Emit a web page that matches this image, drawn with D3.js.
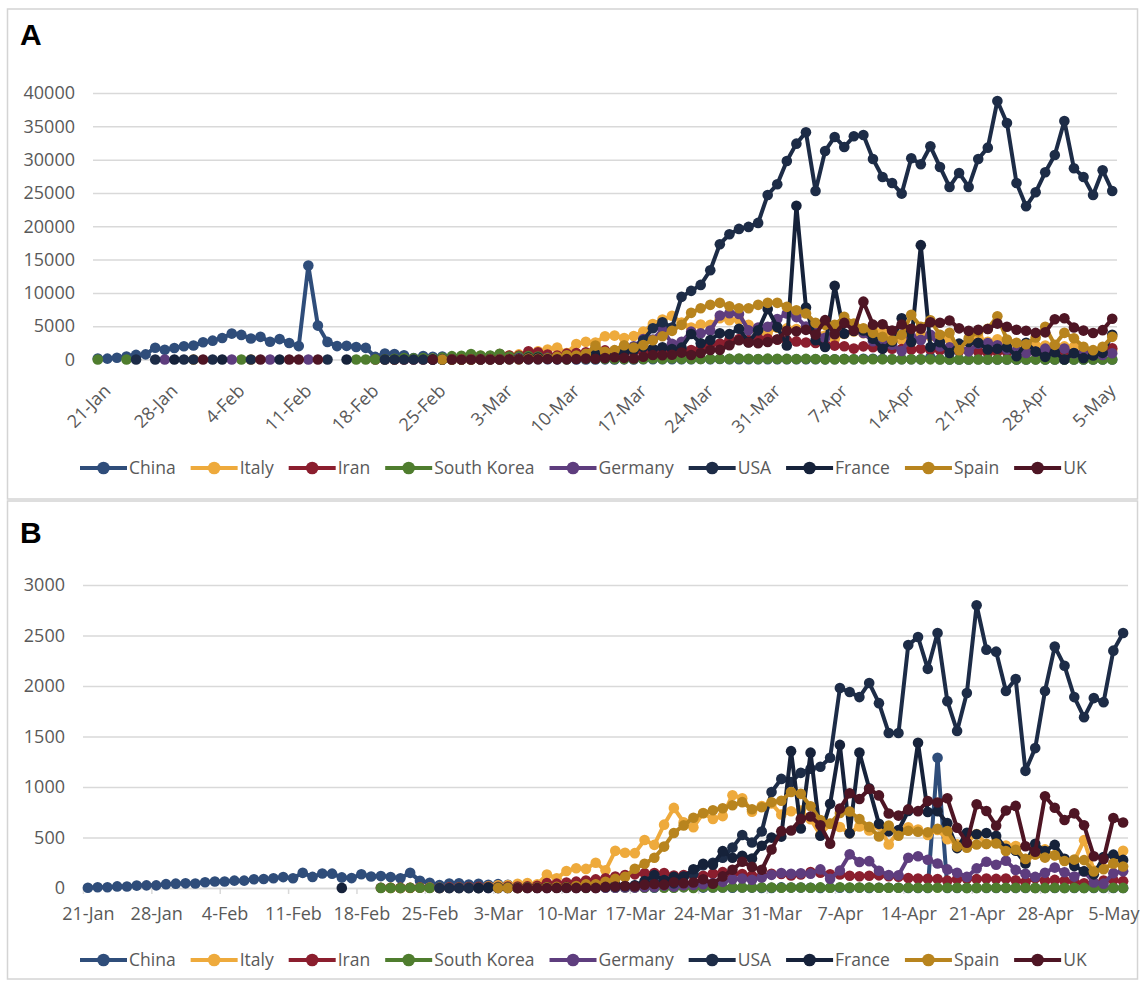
<!DOCTYPE html>
<html>
<head>
<meta charset="utf-8">
<script src="https://cdn.jsdelivr.net/npm/d3@7"></script>
<style>
  body { margin: 0; background: #fff; }
  svg { display: block; font-family: "Open Sans", sans-serif; }
</style>
</head>
<body>
<div id="chart"></div>
<script>
// empty cell (no report that day)
var _ = null;

var countries = ["China", "Italy", "Iran", "South Korea", "Germany", "USA", "France", "Spain", "UK"];
var colors = ["#2F4D7A", "#EEAA3C", "#8B1E2E", "#4F7D2E", "#5E3D7E", "#1D2C47", "#16223A", "#B8841E", "#4E1524"];

var firstDay = "2020-01-21";
var tickLabels = ["21-Jan", "28-Jan", "4-Feb", "11-Feb", "18-Feb", "25-Feb", "3-Mar", "10-Mar",
    "17-Mar", "24-Mar", "31-Mar", "7-Apr", "14-Apr", "21-Apr", "28-Apr", "5-May"];
var casesTicks = [0, 5000, 10000, 15000, 20000, 25000, 30000, 35000, 40000];
var deathsTicks = [0, 500, 1000, 1500, 2000, 2500, 3000];

// ---- A: daily new cases, one row per week ----
var casesChina = [
    149, 131, 259, 444, 688, 769, 1771,
    1459, 1737, 1981, 2102, 2590, 2829, 3235,
    3887, 3694, 3143, 3399, 2656, 3062, 2478,
    2015, 14108, 5090, 2641, 2009, 2048, 1886,
    1749, 394, 889, 823, 648, 214, 508,
    406, 433, 327, 427, 573, 202, 125,
    119, 139, 143, 99, 44, 40, 19,
    24, 15, 8, 11, 20, 16, 21,
    13, 34, 39, 41, 46, 45, 39,
    78, 47, 67, 55, 54, 45, 31,
    48, 36, 35, 31, 30, 39, 25,
    30, 62, 46, 99, 108, 89, 46,
    36, 46, 26, 352, 27, 16, 12,
    11, 30, 10, 6, 12, 11, 3,
    22, 4, 12, 1, 2, 3, 1,
    2, 3];
var casesItaly = [
    _, _, _, _, _, _, _,
    _, _, _, 2, _, _, _,
    _, _, 1, _, _, _, _,
    _, _, _, _, _, _, _,
    _, _, _, 17, 59, 71, 79,
    93, 131, 202, 233, 240, 566, 342,
    466, 587, 769, 778, 1247, 1492, 1797,
    977, 2313, 2651, 2547, 3497, 3590, 3233,
    3526, 4207, 5322, 5986, 6557, 5560, 4789,
    5249, 5210, 6203, 5909, 5974, 5217, 4050,
    4053, 4782, 4668, 4585, 4805, 4316, 3599,
    3039, 3836, 4204, 3951, 4694, 4092, 3153,
    2972, 2667, 3786, 3493, 3491, 3047, 2256,
    2729, 3370, 2646, 3021, 2357, 2324, 1739,
    2091, 2086, 1872, 1965, 1900, 1389, 1221,
    1075, 1444];
var casesIran = [
    _, _, _, _, _, _, _,
    _, _, _, _, _, _, _,
    _, _, _, _, _, _, _,
    _, _, _, _, _, _, _,
    _, 2, 3, 13, 10, 15, 18,
    34, 44, 106, 143, 205, 385, 523,
    835, 586, 591, 1234, 1076, 743, 595,
    881, 958, 1075, 1289, 1365, 1209, 1053,
    1178, 1192, 1046, 1237, 966, 1028, 1411,
    1762, 2206, 2389, 2926, 3076, 2901, 3186,
    3110, 2987, 2875, 2715, 2560, 2483, 2274,
    2089, 1997, 1634, 1972, 1837, 1657, 1617,
    1574, 1512, 1606, 1499, 1374, 1343, 1294,
    1297, 1194, 1030, 1168, 1134, 1153, 991,
    1112, 1073, 993, 1006, 802, 976, 1223,
    1323, 1680];
var casesKorea = [
    1, _, _, 1, _, _, _,
    _, _, _, _, _, _, _,
    _, 3, _, _, _, _, _,
    _, _, _, _, _, _, 1,
    1, 15, 34, 100, 229, 169, 231,
    144, 284, 505, 571, 813, 586, 599,
    851, 435, 467, 505, 448, 272, 165,
    35, 242, 114, 110, 107, 76, 74,
    84, 93, 152, 87, 147, 98, 64,
    76, 100, 104, 91, 146, 105, 78,
    125, 101, 89, 86, 94, 81, 47,
    47, 53, 39, 27, 30, 32, 25,
    27, 27, 22, 22, 18, 8, 13,
    9, 11, 8, 6, 10, 10, 10,
    14, 9, 4, 9, 6, 13, 8,
    3, 2];
var casesGermany = [
    _, _, _, _, _, _, _,
    3, _, _, _, _, _, _,
    1, _, _, _, 1, _, _,
    _, 1, _, _, _, _, _,
    _, _, _, _, _, _, _,
    _, 10, 26, 9, 57, 73, 29,
    66, 66, 220, 188, 129, 241, 136,
    281, 451, 170, 1597, 910, 1210, 1477,
    1985, 3070, 2993, 4528, 2365, 2660, 4183,
    3930, 4337, 6615, 6933, 6824, 4400, 4790,
    4923, 6064, 6922, 6365, 4933, 4031, 3251,
    4289, 5633, 4885, 3990, 2737, 2946, 2218,
    1287, 3394, 2945, 3699, 1945, 1842, 1881,
    1226, 2357, 2481, 2137, 1514, 1257, 988,
    1154, 1627, 1470, 1639, 945, 793, 679,
    685, 947];
var casesUSA = [
    _, _, _, _, 1, _, 1,
    _, _, 1, 1, _, 1, _,
    _, _, 1, _, _, _, _,
    _, _, _, 1, _, _, _,
    _, _, 0, 0, 0, 0, 0,
    0, 3, 0, 4, 12, 9, 24,
    20, 31, 68, 45, 140, 116, 65,
    378, 277, 432, 596, 560, 777, 1100,
    1800, 2900, 4700, 5600, 4800, 9400, 10300,
    11200, 13400, 17300, 18800, 19600, 19900, 20500,
    24700, 26300, 29800, 32400, 34100, 25300, 31300,
    33400, 31900, 33500, 33700, 30100, 27400, 26500,
    24900, 30200, 29300, 32000, 28900, 25900, 28000,
    25900, 30100, 31800, 38800, 35500, 26500, 23000,
    25100, 28100, 30700, 35800, 28700, 27400, 24700,
    28400, 25300];
var casesFrance = [
    _, _, _, _, _, _, _,
    _, 1, _, _, _, _, 1,
    _, _, _, _, _, 5, _,
    _, _, _, _, _, 1, _,
    _, _, _, _, _, _, _,
    2, 2, 20, 19, 43, 30, 61,
    13, 81, 92, 276, 296, 177, 286,
    372, 495, 785, 838, 924, 1210, 1097,
    1404, 1861, 1617, 1847, 1559, 1780, 3838,
    2446, 2931, 3922, 3809, 4611, 2599, 4376,
    7578, 4861, 2116, 23060, 7788, 2900, 1873,
    11059, 3881, 4286, 4342, 3114, 1613, 2673,
    6200, 2633, 17164, 1880, 2600, 975, 2383,
    2638, 2500, 1497, 1617, 1825, 500, 2500,
    1211, 400, 1100, 0, 975, 200, 600,
    1000, 3700];
var casesSpain = [
    _, _, _, _, _, _, _,
    _, _, _, _, _, _, _,
    _, _, _, _, _, _, _,
    _, _, _, _, _, _, _,
    _, _, _, _, _, _, _,
    _, 7, 2, 17, 13, 39, 36,
    45, 57, 37, 141, 100, 173, 400,
    622, 582, 869, 2086, 1159, 1407, 2144,
    1806, 2162, 2900, 3500, 4300, 5200, 7000,
    7700, 8200, 8500, 8000, 7700, 7700, 8200,
    8500, 8500, 7900, 7400, 6900, 5500, 5200,
    5200, 6400, 5400, 4700, 4000, 3400, 2900,
    3700, 6700, 4900, 5900, 3700, 4000, 1400,
    3200, 4200, 4600, 6500, 3000, 2500, 2300,
    3300, 4900, 2200, 4000, 3200, 1900, 1400,
    1900, 3400];
var casesUK = [
    _, _, _, _, _, _, _,
    _, _, _, _, 2, _, _,
    _, _, _, 1, _, _, 4,
    1, _, 1, _, _, _, _,
    _, _, _, _, _, _, _,
    0, _, 2, 5, 3, 12, 4,
    11, 34, 30, 48, 43, 67, 48,
    52, 83, 134, 117, 208, 342, 251,
    152, 407, 676, 643, 714, 1035, 665,
    967, 1427, 1452, 2129, 2885, 2546, 2433,
    2619, 3009, 4324, 4244, 4450, 3735, 5903,
    3802, 5491, 4344, 8681, 5233, 5288, 4342,
    5252, 4603, 4617, 5599, 5525, 5850, 4676,
    4301, 4451, 4583, 5386, 4913, 4463, 4309,
    3996, 4076, 6032, 6201, 4806, 4339, 3985,
    4406, 6111];

// ---- B: daily deaths, one row per week ----
var deathsChina = [
    3, 8, 8, 16, 15, 24, 26,
    26, 38, 43, 46, 45, 57, 64,
    65, 73, 73, 86, 89, 97, 108,
    97, 150, 110, 143, 142, 105, 98,
    136, 114, 118, 109, 97, 150, 71,
    52, 29, 44, 47, 35, 42, 31,
    38, 31, 30, 28, 27, 22, 17,
    22, 11, 7, 13, 10, 14, 13,
    11, 8, 3, 7, 6, 9, 7,
    4, 6, 5, 3, 5, 4, 1,
    1, 6, 4, 4, 3, 1, 2,
    2, 1, 3, 1, 2, 3, 3,
    1, 0, 0, 1290, 0, 0, 0,
    0, 0, 0, 0, 0, 0, 0,
    0, 0, 0, 0, 0, 0, 0,
    0, 0];
var deathsItaly = [
    _, _, _, _, _, _, _,
    _, _, _, _, _, _, _,
    _, _, _, _, _, _, _,
    _, _, _, _, _, _, _,
    _, _, _, 1, 1, 1, 4,
    4, 1, 5, 4, 8, 5, 18,
    27, 28, 41, 49, 36, 133, 97,
    168, 196, 189, 250, 175, 368, 349,
    345, 475, 427, 627, 793, 651, 601,
    743, 683, 712, 919, 889, 756, 812,
    837, 727, 760, 766, 681, 525, 636,
    604, 542, 610, 570, 619, 431, 566,
    602, 578, 525, 575, 482, 433, 454,
    534, 437, 464, 420, 415, 260, 333,
    382, 323, 285, 269, 474, 174, 195,
    236, 369];
var deathsIran = [
    _, _, _, _, _, _, _,
    _, _, _, _, _, _, _,
    _, _, _, _, _, _, _,
    _, _, _, _, _, _, _,
    _, _, 2, 2, 1, 3, 4,
    3, 3, 7, 8, 9, 11, 12,
    11, 15, 15, 16, 21, 49, 43,
    54, 63, 75, 85, 97, 113, 129,
    135, 147, 149, 149, 123, 129, 127,
    122, 143, 157, 144, 139, 123, 117,
    141, 138, 124, 134, 158, 151, 136,
    133, 121, 117, 122, 125, 117, 111,
    98, 94, 92, 89, 73, 87, 91,
    88, 94, 90, 93, 76, 60, 96,
    71, 80, 71, 63, 47, 47, 74,
    78, 68];
var deathsKorea = [
    _, _, _, _, _, _, _,
    _, _, _, _, _, _, _,
    _, _, _, _, _, _, _,
    _, _, _, _, _, _, _,
    _, _, 1, 1, 0, 2, 2,
    1, 1, 0, 1, 1, 1, 4,
    6, 4, 3, 7, 2, 7, 3,
    3, 6, 0, 6, 5, 3, 6,
    6, 3, 7, 3, 2, 7, 0,
    9, 5, 5, 8, 5, 6, 6,
    4, 3, 4, 5, 3, 6, 3,
    8, 4, 4, 4, 3, 3, 3,
    3, 3, 2, 3, 2, 2, 1,
    1, 2, 2, 2, 2, 2, 1,
    1, 2, 1, 2, 1, 2, 2,
    2, 1];
var deathsGermany = [
    _, _, _, _, _, _, _,
    _, _, _, _, _, _, _,
    _, _, _, _, _, _, _,
    _, _, _, _, _, _, _,
    _, _, _, _, _, _, _,
    _, 0, 0, 0, 0, 0, 0,
    0, 0, 0, 0, 0, 0, 2,
    0, 1, 3, 1, 2, 3, 5,
    4, 8, 11, 24, 14, 27, 29,
    37, 49, 61, 86, 94, 81, 105,
    130, 149, 140, 145, 142, 184, 92,
    173, 333, 258, 266, 171, 129, 126,
    300, 315, 280, 242, 184, 150, 110,
    194, 260, 230, 270, 179, 140, 110,
    150, 202, 156, 113, 164, 54, 43,
    146, 165];
var deathsUSA = [
    _, _, _, _, _, _, _,
    _, _, _, _, _, _, _,
    _, _, _, _, _, _, _,
    _, _, _, _, _, _, _,
    _, _, _, _, _, _, _,
    _, 0, 0, 0, 1, 0, 4,
    3, 2, 1, 2, 3, 4, 4,
    4, 8, 7, 11, 10, 12, 18,
    23, 41, 56, 49, 46, 113, 140,
    225, 250, 300, 400, 525, 450, 560,
    950, 1080, 1050, 1140, 1180, 1200, 1290,
    1980, 1940, 1890, 2030, 1830, 1535, 1535,
    2405, 2485, 2170, 2525, 1850, 1555, 1930,
    2800, 2360, 2340, 1950, 2070, 1160, 1385,
    1950, 2390, 2200, 1890, 1690, 1880, 1840,
    2350, 2525];
var deathsFrance = [
    _, _, _, _, _, _, _,
    _, _, _, _, _, _, _,
    _, _, _, _, _, _, _,
    _, _, _, _, _, 1, _,
    _, _, _, _, _, _, _,
    _, _, _, _, _, 0, 1,
    1, 0, 2, 2, 3, 8, 6,
    9, 15, 13, 18, 12, 36, 21,
    27, 69, 128, 78, 112, 112, 186,
    240, 231, 365, 299, 319, 292, 418,
    499, 509, 1355, 590, 1340, 518, 833,
    1417, 541, 1341, 987, 635, 561, 574,
    762, 1438, 753, 761, 642, 395, 547,
    531, 544, 516, 389, 369, 242, 437,
    367, 427, 289, 218, 166, 135, 306,
    330, 278];
var deathsSpain = [
    _, _, _, _, _, _, _,
    _, _, _, _, _, _, _,
    _, _, _, _, _, _, _,
    _, _, _, _, _, _, _,
    _, _, _, _, _, _, _,
    _, _, _, _, _, _, _,
    1, 1, 1, 2, 5, 7, 11,
    7, 19, 37, 36, 62, 90, 110,
    190, 240, 300, 410, 545, 620, 695,
    740, 770, 790, 820, 850, 780, 800,
    849, 864, 950, 932, 809, 674, 637,
    743, 757, 683, 605, 510, 619, 517,
    567, 557, 551, 585, 565, 410, 399,
    430, 435, 440, 367, 378, 288, 331,
    301, 325, 268, 281, 276, 164, 185,
    244, 213];
var deathsUK = [
    _, _, _, _, _, _, _,
    _, _, _, _, _, _, _,
    _, _, _, _, _, _, _,
    _, _, _, _, _, _, _,
    _, _, _, _, _, _, _,
    _, _, _, _, _, _, _,
    _, _, 0, 1, 1, 0, 1,
    2, 1, 2, 1, 11, 14, 20,
    16, 33, 40, 33, 56, 48, 54,
    87, 43, 115, 181, 260, 209, 180,
    381, 563, 569, 684, 708, 621, 439,
    786, 938, 881, 980, 917, 737, 717,
    778, 761, 861, 847, 888, 596, 449,
    828, 763, 616, 768, 813, 413, 360,
    909, 795, 674, 739, 621, 315, 288,
    693, 649];

var casesValues = [casesChina, casesItaly, casesIran, casesKorea, casesGermany, casesUSA, casesFrance, casesSpain, casesUK];
var deathsValues = [deathsChina, deathsItaly, deathsIran, deathsKorea, deathsGermany, deathsUSA, deathsFrance, deathsSpain, deathsUK];

// category labels for every day, "21-Jan" style
var start = d3.timeParse("%Y-%m-%d")(firstDay);
var days = d3.timeDay.range(start, d3.timeDay.offset(start, casesChina.length)).map(d3.timeFormat("%-d-%b"));

var svg = d3.select("#chart")
    .append("svg")
    .attr("width", 1146)
    .attr("height", 988);

svg.append("rect").attr("width", 1146).attr("height", 988).attr("fill", "#fff");

drawPanel({
    letter: "A", letterY: 45, frameTop: 9, frameHeight: 490,
    left: 93, right: 1117, zeroY: 359.5, topY: 93,
    ticks: casesTicks, values: casesValues, rotated: true, legendY: 468
});

drawPanel({
    letter: "B", letterY: 543, frameTop: 501, frameHeight: 478,
    left: 83, right: 1128, zeroY: 888, topY: 585,
    ticks: deathsTicks, values: deathsValues, rotated: false, legendY: 960
});

function drawPanel(p) {
    let x = d3.scalePoint().domain(days).range([p.left, p.right]).padding(0.5);
    let y = d3.scaleLinear().domain([0, d3.max(p.ticks)]).range([p.zeroY, p.topY]);

    // panel frame and letter
    svg.append("rect")
        .attr("x", 7.5).attr("y", p.frameTop)
        .attr("width", 1130).attr("height", p.frameHeight)
        .attr("fill", "none").attr("stroke", "#d4d4d4").attr("stroke-width", 1.5);

    svg.append("text")
        .attr("x", 20).attr("y", p.letterY)
        .text(p.letter)
        .style("font-family", "'Liberation Sans', Arial, sans-serif")
        .style("font-weight", "bold")
        .style("font-size", "30px")
        .attr("fill", "#000");

    // Y axis with gridlines
    let yAxis = svg.append("g")
        .attr("transform", "translate(" + p.left + ",0)")
        .call(d3.axisLeft(y).tickValues(p.ticks).tickSize(-(p.right - p.left)).tickPadding(18).tickFormat(d3.format("d")));
    yAxis.select(".domain").remove();
    yAxis.selectAll("line").attr("stroke", "#d9d9d9").attr("stroke-width", 1.5);
    yAxis.selectAll("text")
        .attr("fill", "#595959")
        .style("font-family", "'Open Sans', sans-serif")
        .style("font-size", "18px");

    // X axis labels
    let xAxis = svg.append("g")
        .attr("transform", "translate(0," + p.zeroY + ")")
        .call(d3.axisBottom(x).tickValues(tickLabels).tickSize(0).tickPadding(p.rotated ? 0 : 19));
    xAxis.select(".domain").remove();
    let labels = xAxis.selectAll("text")
        .attr("fill", "#595959")
        .style("font-family", "'Open Sans', sans-serif")
        .style("font-size", "18px");
    if (p.rotated) {
        labels.attr("y", 0).attr("x", 0).attr("dy", "0.35em")
            .attr("text-anchor", "end")
            .attr("transform", "translate(9,28) rotate(-45)");
    } else {
        // axis line with marks between the weeks
        let xEdge = d3.scaleLinear().domain([-0.5, days.length - 0.5]).range([p.left, p.right]);
        let edge = svg.append("g")
            .attr("transform", "translate(0," + p.zeroY + ")")
            .call(d3.axisBottom(xEdge).tickValues(d3.range(-0.5, days.length, 7)).tickSize(6).tickSizeOuter(0).tickFormat(""));
        edge.select(".domain").attr("stroke", "#d9d9d9").attr("stroke-width", 1.5);
        edge.selectAll("line").attr("stroke", "#d9d9d9").attr("stroke-width", 1.5);
    }

    // Series: line then markers, in legend order
    let line = d3.line()
        .defined(function (d) { return d.v !== null; })
        .x(function (d) { return x(d.day); })
        .y(function (d) { return y(d.v); });

    p.values.forEach(function (vals, i) {
        let pts = vals.map(function (v, j) { return { day: days[j], v: v }; });
        let g = svg.append("g");
        g.append("path")
            .datum(pts)
            .attr("fill", "none")
            .attr("stroke", colors[i])
            .attr("stroke-width", 4)
            .attr("stroke-linejoin", "round")
            .attr("d", line);
        g.selectAll("circle")
            .data(pts.filter(function (d) { return d.v !== null; }))
            .enter()
            .append("circle")
            .attr("cx", function (d) { return x(d.day); })
            .attr("cy", function (d) { return y(d.v); })
            .attr("r", 5.3)
            .attr("fill", colors[i]);
    });

    // Legend
    let lx = 80;
    countries.forEach(function (name, i) {
        let item = svg.append("g");
        item.append("line")
            .attr("x1", lx).attr("x2", lx + 47)
            .attr("y1", p.legendY).attr("y2", p.legendY)
            .attr("stroke", colors[i]).attr("stroke-width", 4);
        item.append("circle")
            .attr("cx", lx + 23.5).attr("cy", p.legendY).attr("r", 6.3)
            .attr("fill", colors[i]);
        let t = item.append("text")
            .attr("x", lx + 49).attr("y", p.legendY).attr("dy", "0.35em")
            .text(name)
            .attr("fill", "#595959")
            .style("font-family", "'Open Sans', sans-serif")
            .style("font-size", "17.5px");
        lx += 49 + t.node().getComputedTextLength() + 15;
    });
}
</script>
</body>
</html>
